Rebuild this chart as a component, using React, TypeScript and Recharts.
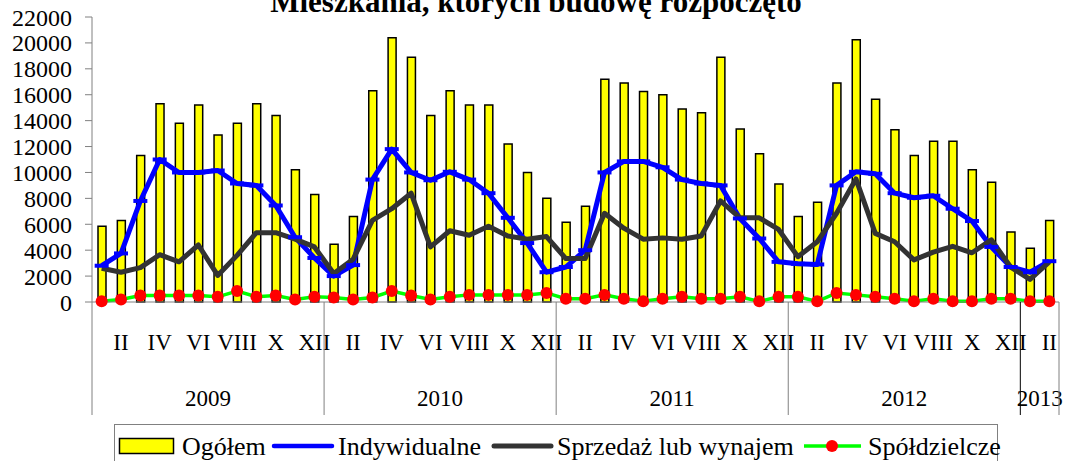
import React from "react";
import { ComposedChart, Bar, Line, XAxis, YAxis } from "recharts";

const MONTHS = ["I", "II", "III", "IV", "V", "VI", "VII", "VIII", "IX", "X", "XI", "XII"];
const YEARS = ["2009", "2010", "2011", "2012", "2013"];
const MONTHS_IN_YEAR = [12, 12, 12, 12, 2];
const Y_TICKS = [0, 2000, 4000, 6000, 8000, 10000, 12000, 14000, 16000, 18000, 20000, 22000];

const ogolem = [
  5850, 6300, 11300, 15300, 13800, 15200, 12900, 13800, 15300, 14400, 10200, 8300,
  4450, 6600, 16300, 20400, 18900, 14400, 16300, 15200, 15200, 12200, 10000, 8000,
  6150, 7400, 17200, 16900, 16250, 16000, 14900, 14600, 18900, 13350, 11450, 9100,
  6600, 7700, 16900, 20250, 15650, 13300, 11300, 12400, 12400, 10200, 9250, 5400,
  4150, 6300,
];
const indywidualne = [
  2800, 3750, 7800, 11000, 10000, 10000, 10150, 9150, 9000, 7450, 5000, 3400,
  2000, 2850, 9450, 11800, 10000, 9400, 10050, 9450, 8400, 6500, 4550, 2300,
  2700, 4000, 10000, 10850, 10850, 10400, 9450, 9150, 9000, 6450, 4900, 3100,
  2950, 2900, 9000, 10050, 9900, 8400, 8050, 8200, 7200, 6250, 4250, 2700,
  2300, 3150,
];
const sprzedaz = [
  2600, 2300, 2650, 3650, 3100, 4400, 2050, 3600, 5350, 5350, 4850, 4250,
  2200, 3300, 6300, 7200, 8400, 4250, 5500, 5150, 5850, 5100, 4850, 5050,
  3350, 3350, 6850, 5700, 4850, 4950, 4850, 5100, 7800, 6500, 6500, 5600,
  3500, 4650, 6850, 9500, 5300, 4650, 3250, 3850, 4300, 3800, 4800, 2700,
  1750, 3100,
];
const spoldzielcze = [
  50, 200, 500, 500, 500, 500, 400, 850, 400, 500, 200, 400,
  350, 200, 350, 850, 500, 200, 400, 550, 550, 550, 550, 700,
  250, 250, 550, 250, 50, 250, 400, 250, 250, 400, 50, 400,
  400, 50, 700, 550, 400, 250, 50, 250, 50, 50, 250, 250,
  50, 50,
];

type Row = { key: string; month: number; year: number; ogolem: number; ind: number; sprz: number; spol: number };
const data: Row[] = [];
YEARS.forEach((y, yi) => {
  for (let m = 0; m < MONTHS_IN_YEAR[yi]; m++) {
    const i = data.length;
    data.push({ key: `${y}-${MONTHS[m]}`, month: m, year: yi, ogolem: ogolem[i], ind: indywidualne[i], sprz: sprzedaz[i], spol: spoldzielcze[i] });
  }
});

const FONT = '"Liberation Serif", "Times New Roman", serif';
const W = 1065;
const H = 461;
const LEFT = 92;
const RIGHT = 6;
const BAND = (W - LEFT - RIGHT) / data.length;
const AXIS = "#808080";

function MonthTick(props: any) {
  const { x, y, payload } = props;
  const row = data[payload.index];
  if (!row) return null;
  const lastOfAll = payload.index === data.length - 1;
  const isFirst = row.month === 0;
  const mid = Math.floor((MONTHS_IN_YEAR[row.year] - 1) / 2);
  return (
    <g>
      {row.month % 2 === 1 && (
        <text x={x} y={y + 48} textAnchor="middle" fontFamily={FONT} fontSize={23} fill="#000">
          {MONTHS[row.month]}
        </text>
      )}
      {isFirst && (
        <line x1={x - BAND / 2} x2={x - BAND / 2} y1={y} y2={y + 113} stroke={row.year === 4 ? "#000" : AXIS} strokeWidth={1} />
      )}
      {lastOfAll && <line x1={x + BAND / 2} x2={x + BAND / 2} y1={y} y2={y + 113} stroke={AXIS} strokeWidth={1} />}
      {row.month === mid && (
        <text x={x + BAND / 2} y={y + 104} textAnchor="middle" fontFamily={FONT} fontSize={23} fill="#000">
          {YEARS[row.year]}
        </text>
      )}
    </g>
  );
}

function DashDot(props: any) {
  const { cx, cy, index } = props;
  if (cx == null || cy == null) return <g key={index} />;
  return <line key={index} x1={cx - 7} x2={cx + 7} y1={cy} y2={cy} stroke="#0000ff" strokeWidth={4} />;
}

export default function App() {
  return (
    <div style={{ position: "relative", width: W, height: H, overflow: "hidden", background: "#fff", fontFamily: FONT }}>
      <style>{`body{margin:0} svg text{font-family:"Liberation Serif","Times New Roman",serif}`}</style>
      <ComposedChart width={W} height={H} data={data} margin={{ top: 17, right: RIGHT, left: 0, bottom: 0 }} barCategoryGap={0}>
        <XAxis
          dataKey="key"
          interval={0}
          height={159}
          tickSize={0}
          tickMargin={0}
          tick={<MonthTick />}
          stroke={AXIS}
          tickLine={false}
        />
        <YAxis
          width={LEFT}
          domain={[0, 22000]}
          ticks={Y_TICKS}
          interval={0}
          tickSize={7}
          tickMargin={13}
          stroke={AXIS}
          tick={{ fill: "#000", fontSize: 24, fontFamily: FONT }}
        />
        <Bar dataKey="ogolem" name="Ogółem" barSize={8} fill="#ffff00" stroke="#000" strokeWidth={1.5} isAnimationActive={false} />
        <Line dataKey="ind" name="Indywidualne" type="linear" stroke="#0000ff" strokeWidth={5} strokeLinejoin="round" dot={<DashDot />} activeDot={false} isAnimationActive={false} />
        <Line dataKey="sprz" name="Sprzedaż lub wynajem" type="linear" stroke="#333333" strokeWidth={5} strokeLinejoin="round" dot={false} activeDot={false} isAnimationActive={false} />
        <Line dataKey="spol" name="Spółdzielcze" type="linear" stroke="#00ff00" strokeWidth={3.5} dot={{ r: 6, fill: "#ff0000", stroke: "none" }} activeDot={false} isAnimationActive={false} />
      </ComposedChart>
      <svg width={W} height={H} style={{ position: "absolute", left: 0, top: 0, pointerEvents: "none" }}>
        <text x={536} y={12} textAnchor="middle" fontFamily={FONT} fontWeight="bold" fontSize={31} fill="#000">
          Mieszkania, których budowę rozpoczęto
        </text>
        <rect x={114.5} y={424.5} width={883} height={45} fill="none" stroke={AXIS} strokeWidth={1} />
        <rect x={119.5} y={438.5} width={54} height={15} fill="#ffff00" stroke="#000" strokeWidth={1.5} />
        <text x={182} y={455} fontFamily={FONT} fontSize={26} fill="#000">Ogółem</text>
        <line x1={274} x2={332} y1={446} y2={446} stroke="#0000ff" strokeWidth={4.5} strokeLinecap="round" />
        <text x={338} y={455} fontFamily={FONT} fontSize={26} fill="#000">Indywidualne</text>
        <line x1={494} x2={551} y1={446} y2={446} stroke="#333333" strokeWidth={5} strokeLinecap="round" />
        <text x={557} y={455} fontFamily={FONT} fontSize={26} fill="#000">Sprzedaż lub wynajem</text>
        <line x1={804} x2={861} y1={446} y2={446} stroke="#00ff00" strokeWidth={3.5} />
        <circle cx={832} cy={446} r={6} fill="#ff0000" />
        <text x={868} y={455} fontFamily={FONT} fontSize={26} fill="#000">Spółdzielcze</text>
      </svg>
    </div>
  );
}
